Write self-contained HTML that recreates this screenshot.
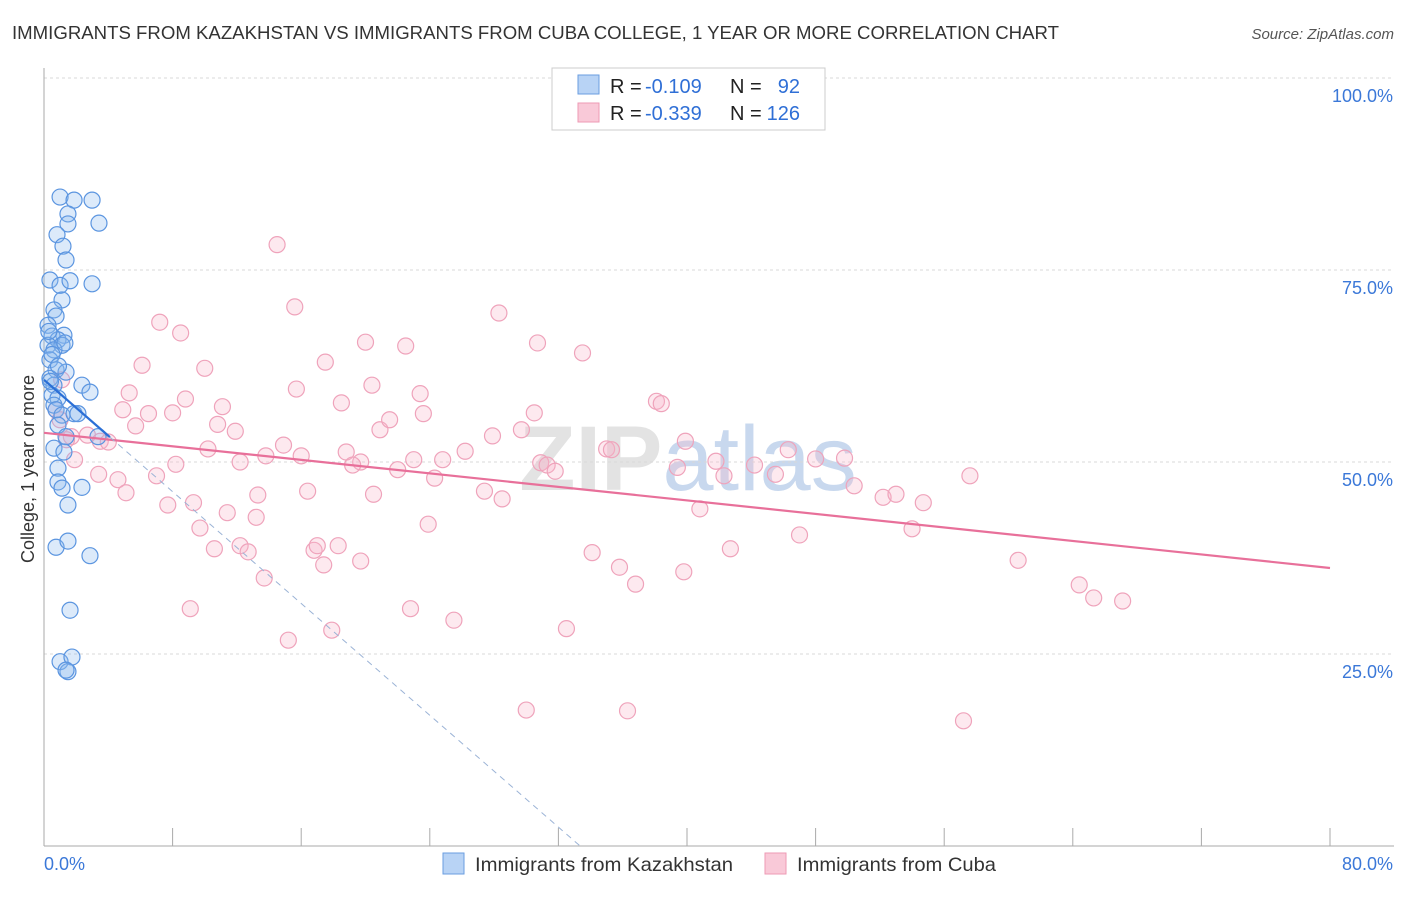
<!DOCTYPE html>
<html><head><meta charset="utf-8"><style>
body{margin:0;background:#fff;font-family:"Liberation Sans",sans-serif;}
svg text{font-family:"Liberation Sans",sans-serif;}
</style></head><body>
<svg id="chart" width="1406" height="892" xmlns="http://www.w3.org/2000/svg">
<text x="12" y="39" font-size="18" fill="#333" textLength="1047" lengthAdjust="spacingAndGlyphs">IMMIGRANTS FROM KAZAKHSTAN VS IMMIGRANTS FROM CUBA COLLEGE, 1 YEAR OR MORE CORRELATION CHART</text>
<text x="1394" y="39" font-size="15" fill="#555" text-anchor="end" font-style="italic">Source: ZipAtlas.com</text>
<text x="688" y="490" font-size="92" fill="#e3e3e3" text-anchor="middle" font-family="Liberation Serif" font-weight="bold">ZIP<tspan fill="#c8d8ee" font-family="Liberation Sans" font-weight="normal">atlas</tspan></text>
<g id="grid"></g><g id="axes"></g><g id="pts"></g><g id="trend"></g>
<g>
<rect x="552" y="68" width="273" height="62" fill="#fff" stroke="#ccc"/>
<rect x="578" y="75" width="21" height="19" fill="#b8d3f5" stroke="#6a9ee0"/>
<rect x="578" y="103" width="21" height="19" fill="#f9c9d8" stroke="#ee9ab4"/>
<text x="610" y="93" font-size="20" fill="#222">R =</text><text x="645" y="93" font-size="20" fill="#2f6fd6">-0.109</text>
<text x="730" y="93" font-size="20" fill="#222">N =</text><text x="800" y="93" font-size="20" fill="#2f6fd6" text-anchor="end">92</text>
<text x="610" y="120" font-size="20" fill="#222">R =</text><text x="645" y="120" font-size="20" fill="#2f6fd6">-0.339</text>
<text x="730" y="120" font-size="20" fill="#222">N =</text><text x="800" y="120" font-size="20" fill="#2f6fd6" text-anchor="end">126</text>
</g>
<g>
<rect x="443" y="853" width="21" height="21" fill="#b8d3f5" stroke="#6a9ee0"/>
<text x="475" y="871" font-size="19.5" fill="#333" textLength="258" lengthAdjust="spacingAndGlyphs">Immigrants from Kazakhstan</text>
<rect x="765" y="853" width="21" height="21" fill="#f9c9d8" stroke="#ee9ab4"/>
<text x="797" y="871" font-size="19.5" fill="#333" textLength="199" lengthAdjust="spacingAndGlyphs">Immigrants from Cuba</text>
</g>
<text x="20" y="455" font-size="18" fill="#333" text-anchor="middle" transform="rotate(-90 34 455)">College, 1 year or more</text>
</svg>
<script>
const blueX=[1.0,1.87,2.99,1.49,1.49,3.42,0.81,1.18,1.37,0.37,1.0,1.62,2.99,1.12,0.62,0.75,0.25,1.24,0.5,0.87,0.25,1.12,0.62,0.37,0.75,1.37,0.37,0.62,2.36,2.86,0.5,0.87,0.62,0.75,1.12,1.87,2.11,0.87,1.37,3.36,0.62,1.24,0.87,0.87,1.12,2.36,1.49,0.75,1.49,2.86,1.62,1.0,1.74,1.49,1.37,0.3,0.5,0.9,1.3,0.4];
const blueY=[84.5,84.1,84.1,82.3,81.0,81.1,79.6,78.1,76.3,73.7,73.0,73.6,73.2,71.1,69.8,69.0,67.8,66.5,66.4,65.9,65.2,65.2,64.6,63.3,62.0,61.7,60.9,60.0,60.0,59.1,58.7,58.3,57.4,56.8,56.1,56.3,56.3,54.8,53.3,53.3,51.8,51.3,49.2,47.4,46.6,46.7,44.4,38.9,39.7,37.8,30.7,24.0,24.6,22.7,22.9,67.0,64.0,62.5,65.5,60.5];
const pinkX=[14.5,15.6,7.2,8.5,28.3,20.0,22.5,30.7,33.5,6.1,17.5,10.0,5.3,15.7,20.4,23.4,8.8,38.1,38.4,4.9,6.5,8.0,11.1,18.5,23.6,30.5,5.7,10.8,11.9,20.9,21.5,27.9,29.7,2.7,3.5,4.0,1.7,14.9,10.2,18.8,13.8,16.0,19.7,19.2,26.2,23.0,24.8,30.9,31.3,31.8,35.0,35.3,39.9,41.8,44.2,46.3,48.0,49.8,1.9,3.4,7.0,8.2,12.2,22.0,24.3,39.4,42.3,45.5,50.4,52.2,53.0,54.7,57.6,4.6,5.1,7.7,9.3,13.3,16.4,20.5,27.4,28.5,40.8,9.7,11.4,13.2,23.9,34.1,42.7,47.0,54.0,10.6,12.2,12.7,16.8,17.0,18.3,17.4,19.7,13.7,35.8,36.8,39.8,60.6,64.4,65.3,67.1,9.1,22.8,25.5,17.9,32.5,15.2,30.0,36.3,57.2,1.1,0.75,1.0,1.4];
const pinkY=[78.3,70.2,68.2,66.8,69.4,65.6,65.1,65.5,64.2,62.6,63.0,62.2,59.0,59.5,60.0,58.9,58.2,57.9,57.6,56.8,56.3,56.4,57.2,57.7,56.3,56.4,54.7,54.9,54.0,54.2,55.5,53.4,54.2,53.5,52.7,52.6,53.3,52.2,51.7,51.3,50.8,50.8,50.0,49.6,51.4,50.3,50.3,49.9,49.6,48.8,51.7,51.6,52.7,50.1,49.6,51.6,50.4,50.5,50.3,48.4,48.2,49.7,50.0,49.0,47.9,49.3,48.2,48.4,46.9,45.4,45.8,44.7,48.2,47.7,46.0,44.4,44.7,45.7,46.2,45.8,46.2,45.2,43.9,41.4,43.4,42.8,41.9,38.2,38.7,40.5,41.3,38.7,39.1,38.3,38.5,39.1,39.1,36.6,37.1,34.9,36.3,34.1,35.7,37.2,34.0,32.3,31.9,30.9,30.9,29.4,28.1,28.3,26.8,17.7,17.6,16.3,60.7,56.8,55.5,52.9];
const yTicks=[25,50,75,100];
const yTickLabels=["25.0%","50.0%","75.0%","100.0%"];
const xTicks=[0,8,16,24,32,40,48,56,64,72,80];
const blueTrend=[60.7,-1.82];   // intercept, slope
const pinkTrend=[53.8,36.2];    // y at x=0, y at x=80
const NS="http://www.w3.org/2000/svg";
const sx=v=>44+v*(1286/80), sy=v=>846-v*7.68;
function mk(p,tag,attrs){const e=document.createElementNS(NS,tag);for(const k in attrs)e.setAttribute(k,attrs[k]);document.getElementById(p).appendChild(e);return e;}
yTicks.forEach((t,i)=>{
 const l=mk('grid','line',{x1:44,x2:1394,y1:sy(t),y2:sy(t),stroke:'#d8d8d8','stroke-dasharray':'3,3'});
 
 
 const tx=mk('grid','text',{x:1393,y:sy(t)+24,'font-size':18,fill:'#3b78d8','text-anchor':'end'});
 tx.textContent=yTickLabels[i];
 
 
});
const ax=mk('axes','line',{x1:44,x2:44,y1:68,y2:846,stroke:'#aaa'});


const bx=mk('axes','line',{x1:44,x2:1394,y1:846,y2:846,stroke:'#aaa'});


xTicks.forEach(t=>{const l=mk('axes','line',{x1:sx(t),x2:sx(t),y1:828,y2:846,stroke:'#aaa'});
 
 });
const x0=mk('axes','text',{x:44,y:870,'font-size':18,fill:'#3b78d8'});x0.textContent='0.0%';


const x1=mk('axes','text',{x:1393,y:870,'font-size':18,fill:'#3b78d8','text-anchor':'end'});x1.textContent='80.0%';


pinkX.forEach((x,i)=>{const c=mk('pts','circle',{cx:sx(x),cy:sy(pinkY[i]),r:8,fill:'rgba(247,182,202,0.3)',stroke:'#efa3bb','stroke-width':1.2});
 
 });
blueX.forEach((x,i)=>{const c=mk('pts','circle',{cx:sx(x),cy:sy(blueY[i]),r:8,fill:'rgba(140,185,240,0.3)',stroke:'#5b95e0','stroke-width':1.2});
 
 });
const pt=mk('trend','line',{x1:sx(0),y1:sy(pinkTrend[0]),x2:sx(80),y2:sy(pinkTrend[1]),stroke:'#e8709a','stroke-width':2.2});


const xEnd=-blueTrend[0]/blueTrend[1];
const bd=mk('trend','line',{x1:sx(4.1),y1:sy(blueTrend[0]+blueTrend[1]*4.1),x2:sx(xEnd),y2:sy(0),stroke:'#9bb3d6','stroke-width':1,'stroke-dasharray':'6,5'});


const bs=mk('trend','line',{x1:sx(0),y1:sy(blueTrend[0]),x2:sx(4.1),y2:sy(blueTrend[0]+blueTrend[1]*4.1),stroke:'#2b6fd6','stroke-width':2.2});


</script>
</body></html>
